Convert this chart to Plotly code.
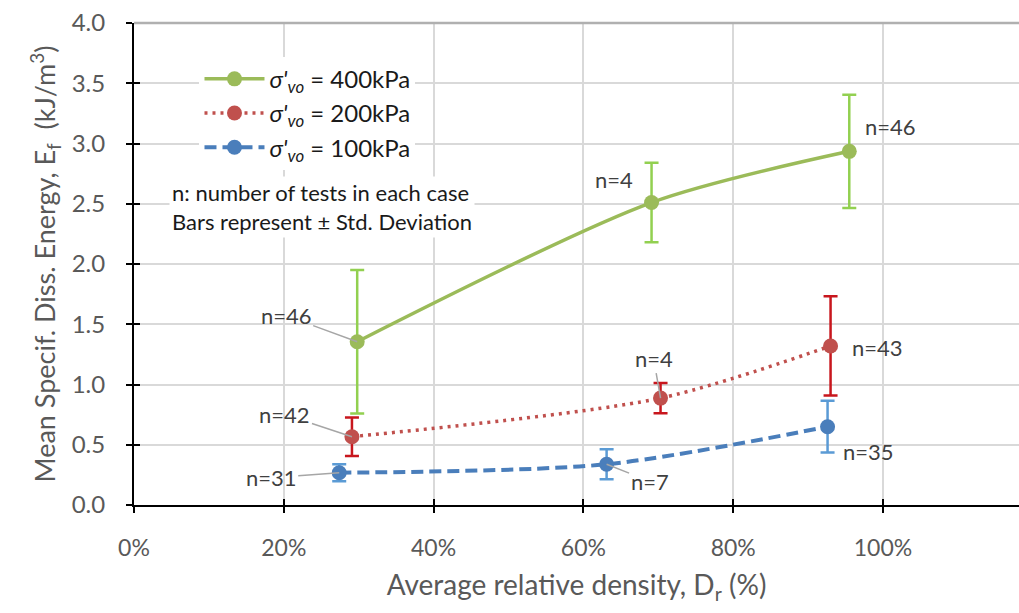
import plotly.graph_objects as go

# Average relative density (fraction) and mean specific dissipated energy (kJ/m3)
dr_400 = [0.298, 0.691, 0.955]
ef_400 = [1.355, 2.510, 2.935]
sd_400 = [0.595, 0.330, 0.470]
n_400 = ["n=46", "n=4", "n=46"]

dr_200 = [0.291, 0.703, 0.930]
ef_200 = [0.567, 0.887, 1.320]
sd_200 = [0.160, 0.125, 0.412]
n_200 = ["n=42", "n=4", "n=43"]

dr_100 = [0.274, 0.631, 0.926]
ef_100 = [0.268, 0.338, 0.650]
sd_100 = [0.070, 0.125, 0.215]
n_100 = ["n=31", "n=7", "n=35"]

x_ticks = [0, 0.2, 0.4, 0.6, 0.8, 1.0]
x_tick_text = ["0%", "20%", "40%", "60%", "80%", "100%"]
y_ticks = [0, 0.5, 1.0, 1.5, 2.0, 2.5, 3.0, 3.5, 4.0]

FONT = "Lato"
GREY_TXT = "#595959"
LABEL_TXT = "#404040"
LEADER = "#a6a6a6"

series = [
    dict(name="<i>σ'</i><sub><i>vo</i></sub> = 400kPa", x=dr_400, y=ef_400, sd=sd_400,
         color="#9bbb59", ecolor="#92d050", dash="solid", width=3.5),
    dict(name="<i>σ'</i><sub><i>vo</i></sub> = 200kPa", x=dr_200, y=ef_200, sd=sd_200,
         color="#c0504d", ecolor="#c8161d", dash="3px,5px", width=3.5),
    dict(name="<i>σ'</i><sub><i>vo</i></sub> = 100kPa", x=dr_100, y=ef_100, sd=sd_100,
         color="#4a7ebb", ecolor="#5b9bd5", dash="12px,6px", width=4),
]

fig = go.Figure()
for s in series:
    fig.add_trace(go.Scatter(
        x=s["x"], y=s["y"], name=s["name"], mode="lines+markers",
        line=dict(color=s["color"], width=s["width"], dash=s["dash"],
                  shape="spline", smoothing=0.8),
        marker=dict(color=s["color"], size=15),
        error_y=dict(type="data", array=s["sd"], visible=True,
                     color=s["ecolor"], thickness=2.5, width=7),
    ))

# Sample-count labels; some carry a grey leader line back to the point
leader_specs = [
    (dr_400[0], ef_400[0], n_400[0], -71, -26),
    (dr_200[0], ef_200[0], n_200[0], -67, -22),
    (dr_100[0], ef_100[0], n_100[0], -68, 5),
    (dr_200[1], ef_200[1], n_200[1], -7, -40),
    (dr_100[1], ef_100[1], n_100[1], 43, 17),
]
for x, y, t, ax, ay in leader_specs:
    fig.add_annotation(x=x, y=y, text=t, showarrow=True, arrowhead=0,
                       arrowwidth=1.5, arrowcolor=LEADER, ax=ax, ay=ay,
                       standoff=0, font=dict(family=FONT, size=22, color=LABEL_TXT))

plain_specs = [
    (dr_400[1], ef_400[1], n_400[1], -38, 23),
    (dr_400[2], ef_400[2], n_400[2], 41, 25),
    (dr_200[2], ef_200[2], n_200[2], 47, -2),
    (dr_100[2], ef_100[2], n_100[2], 41, -25),
]
for x, y, t, xs, ys in plain_specs:
    fig.add_annotation(x=x, y=y, text=t, showarrow=False, xshift=xs, yshift=ys,
                       font=dict(family=FONT, size=22, color=LABEL_TXT))

# Explanatory note
fig.add_annotation(
    xref="paper", yref="paper", x=0.040, y=0.683, xanchor="left", yanchor="top",
    text="n: number of tests in each case<br>Bars represent ± Std. Deviation",
    align="left", showarrow=False, bgcolor="white", borderpad=2,
    font=dict(family=FONT, size=22, color="#1a1a1a"),
)

# Top frame line of the plot area
fig.add_shape(type="line", xref="paper", yref="paper", x0=0, x1=1, y0=1, y1=1,
              line=dict(color="#b0b0b0", width=2.5), layer="above")

x_max = 1.1816

fig.update_layout(
    width=1019, height=613,
    margin=dict(l=134, r=0, t=23, b=108),
    paper_bgcolor="white", plot_bgcolor="white",
    font=dict(family=FONT, color=GREY_TXT),
    legend=dict(
        x=0.074, y=0.93, xanchor="left", yanchor="top",
        bgcolor="white", font=dict(family=FONT, size=24, color="#1a1a1a"),
        itemwidth=60, tracegroupgap=0,
    ),
    xaxis=dict(
        range=[0, x_max], tickvals=x_ticks, ticktext=x_tick_text,
        showgrid=True, gridcolor="#d9d9d9", gridwidth=2,
        showline=True, linecolor="black", linewidth=2,
        ticks="outside", ticklen=6, tickwidth=2, tickcolor="black",
        ticklabelstandoff=15,
        tickfont=dict(family=FONT, size=23, color=GREY_TXT),
        title=dict(text="Average relative density, D<sub>r</sub> (%)",
                   font=dict(family=FONT, size=28, color=GREY_TXT), standoff=16),
        zeroline=False,
    ),
    yaxis=dict(
        range=[0, 4.0], tickvals=y_ticks, tickformat=".1f",
        showgrid=True, gridcolor="#d9d9d9", gridwidth=2,
        showline=True, linecolor="black", linewidth=2,
        ticks="outside", ticklen=6, tickwidth=2, tickcolor="black",
        ticklabelstandoff=16,
        tickfont=dict(family=FONT, size=24, color=GREY_TXT),
        title=dict(text="Mean Specif. Diss. Energy, E<sub>f</sub>  (kJ/m<sup>3</sup>)",
                   font=dict(family=FONT, size=27, color=GREY_TXT), standoff=8),
        zeroline=False,
    ),
    # Mirror axes drawn with inward ticks so the tick marks cross the axis lines
    xaxis2=dict(overlaying="x", matches="x", range=[0, x_max], tickvals=x_ticks,
                showticklabels=False, ticks="inside", ticklen=6, tickwidth=2,
                tickcolor="black", showgrid=False, zeroline=False, anchor="y"),
    yaxis2=dict(overlaying="y", range=[0, 4.0], tickvals=y_ticks,
                showticklabels=False, ticks="inside", ticklen=6, tickwidth=2,
                tickcolor="black", showgrid=False, zeroline=False, anchor="x"),
)

# An empty trace binds the inward-tick axes so they are rendered
fig.add_trace(go.Scatter(x=[None], y=[None], xaxis="x2", yaxis="y2",
                         showlegend=False, hoverinfo="skip"))

fig.write_html("out.html")
